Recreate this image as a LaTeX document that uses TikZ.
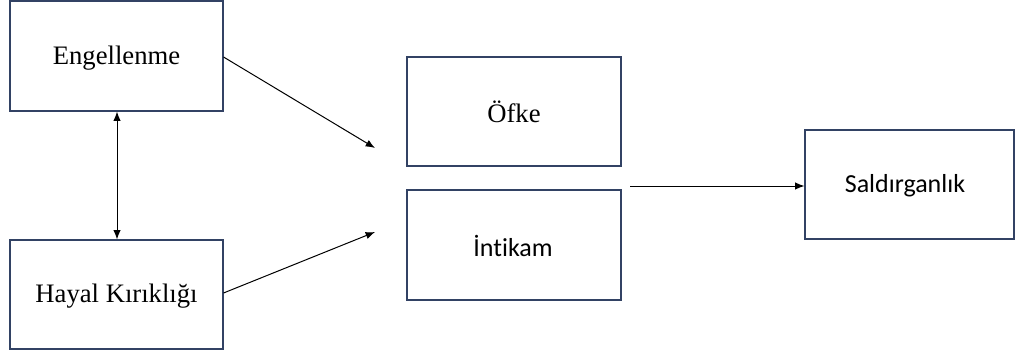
\documentclass[tikz,border=0pt]{standalone}
\usepackage{fontspec}
\setmainfont{Liberation Serif}
\newfontfamily\calib[Ligatures={NoCommon,NoRare,NoContextual}]{Carlito}
\usetikzlibrary{arrows.meta}
\definecolor{boxline}{RGB}{50,66,100}
\begin{document}
\begin{tikzpicture}[x=0.75pt,y=-0.75pt,
  box/.style={draw=boxline,line width=0.8pt,fill=white,inner sep=0pt},
  conn/.style={draw=black,line width=0.75pt,-{Latex[length=7pt,width=5.5pt]}},
  serif/.style={font=\fontsize{20}{24}\selectfont},
  sans/.style={font=\calib\fontsize{19.5}{24}\selectfont}]
\useasboundingbox (0,0) rectangle (1016,356);
\node[box,minimum width=213*0.75pt,minimum height=110*0.75pt] (eng) at (116.5,56) {};
\node[serif] (engt) at (116.5,58) {Engellenme};
\node[box,minimum width=213*0.75pt,minimum height=109*0.75pt] (hay) at (116.5,294.5) {};
\node[serif] (hayt) at (116.5,296) {Hayal Kırıklığı};
\node[box,minimum width=214*0.75pt,minimum height=109*0.75pt] (ofk) at (514,111.5) {};
\node[serif] (ofkt) at (514,112) {Öfke};
\node[box,minimum width=214*0.75pt,minimum height=110*0.75pt] (int) at (514,245) {};
\node[sans] (intt) at (513,246) {İntikam};
\node[box,minimum width=209*0.75pt,minimum height=109*0.75pt] (sal) at (909.5,184.5) {};
\node[sans] (salt) at (905,186) {Saldırganlık};
\coordinate (t1) at (375,148);
\coordinate (t2) at (375,232);
\coordinate (s3) at (630,186);
\draw[conn] (eng.east |- 0,57) -- (t1);
\draw[conn] (hay.east |- 0,293) -- (t2);
\draw[conn] (s3) -- (sal.west |- s3);
\draw[draw=black,line width=0.75pt,{Latex[length=7pt,width=5.5pt]}-{Latex[length=7pt,width=5.5pt]}] (eng.south -| 117,0) -- (hay.north -| 117,0);
\end{tikzpicture}
\end{document}
